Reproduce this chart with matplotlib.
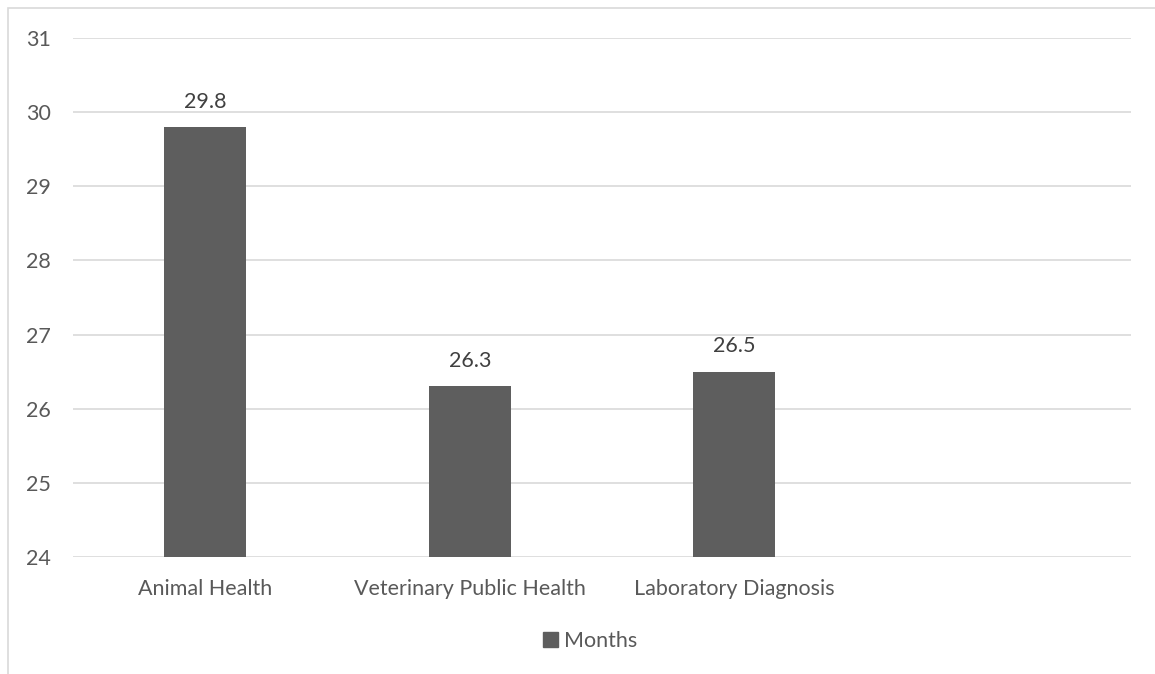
import matplotlib.pyplot as plt
from matplotlib.patches import Rectangle, Patch

categories = ['Animal Health', 'Veterinary Public Health', 'Laboratory Diagnosis', '']
months = [29.8, 26.3, 26.5, None]
yticks = [24, 25, 26, 27, 28, 29, 30, 31]

plt.rcParams['font.family'] = ['Lato', 'DejaVu Sans']
txt = '#595959'

fig = plt.figure(figsize=(11.55, 6.74), dpi=100)
ax = fig.add_axes([73/1155, 1-557/674, (1131-73)/1155, (557-38)/674])

# chart area border
fig.patches.append(Rectangle((8/1155, -0.1), 1.2, 1-8/674+0.1, transform=fig.transFigure,
                             fill=False, edgecolor='#d9d9d9', linewidth=1.2))

xs = list(range(len(categories)))
vals = [v if v is not None else 0 for v in months]
bars = ax.bar(xs[:3], vals[:3], width=0.31, color='#5e5e5e', zorder=3, bottom=0)
for x, v in zip(xs[:3], vals[:3]):
    ax.annotate(f'{v:.1f}', (x, v), xytext=(0, 11), textcoords='offset points',
                ha='center', va='bottom', fontsize=15.5, color='#404040')

ax.set_xlim(-0.5, 3.5)
ax.set_ylim(24, 31)
ax.set_yticks(yticks)
ax.set_xticks(xs)
ax.set_xticklabels(categories)
ax.yaxis.grid(True, color='#d9d9d9', linewidth=1.2, zorder=0)
for s in ax.spines.values():
    s.set_visible(False)
ax.tick_params(length=0, labelsize=15.5, labelcolor=txt)
ax.tick_params(axis='x', pad=16)
for lbl in ax.get_yticklabels():
    lbl.set_horizontalalignment('left')
ax.yaxis.set_tick_params(pad=34)

fig.legend(handles=[Patch(color='#5e5e5e', label='Months')], loc='center',
           bbox_to_anchor=(590/1155, 1-641/674), frameon=False, fontsize=15.5,
           labelcolor=txt, handlelength=0.7, handleheight=0.7, handletextpad=0.3)

fig.savefig('out.png', dpi=100)
